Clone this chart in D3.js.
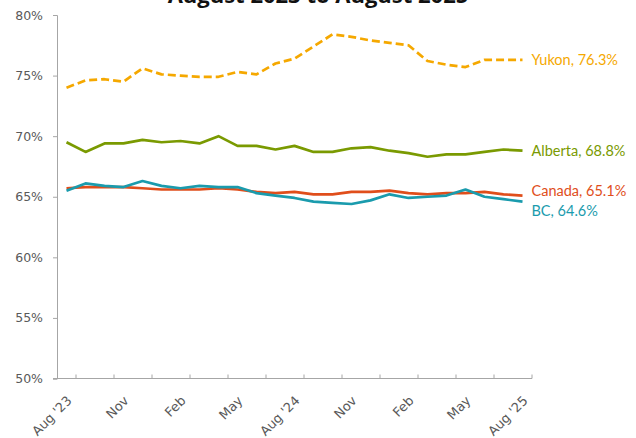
<!DOCTYPE html>
<html>
<head>
<meta charset="utf-8">
<script src="https://cdn.jsdelivr.net/npm/d3@7"></script>
<style>
  body { margin: 0; background: #fff; }
  svg { display: block; }
</style>
</head>
<body>
<div id="chart"></div>
<script>
// monthly participation rates, Aug 2023 - Aug 2025
const months = ["Aug '23","Sep","Oct","Nov","Dec","Jan","Feb","Mar","Apr","May","Jun","Jul",
  "Aug '24","Sep","Oct","Nov","Dec","Jan","Feb","Mar","Apr","May","Jun","Jul","Aug '25"];
const tickLabels = ["Aug '23","Nov","Feb","May","Aug '24","Nov","Feb","May","Aug '25"];
const yTicks = [50, 55, 60, 65, 70, 75, 80];

const yukon   = [74.0, 74.6, 74.7, 74.5, 75.6, 75.1, 75.0, 74.9, 74.9, 75.3, 75.1, 76.0,
                 76.4, 77.4, 78.4, 78.2, 77.9, 77.7, 77.5, 76.2, 75.9, 75.7, 76.3, 76.3, 76.3];
const alberta = [69.5, 68.7, 69.4, 69.4, 69.7, 69.5, 69.6, 69.4, 70.0, 69.2, 69.2, 68.9,
                 69.2, 68.7, 68.7, 69.0, 69.1, 68.8, 68.6, 68.3, 68.5, 68.5, 68.7, 68.9, 68.8];
const canada  = [65.7, 65.8, 65.8, 65.8, 65.7, 65.6, 65.6, 65.6, 65.7, 65.6, 65.4, 65.3,
                 65.4, 65.2, 65.2, 65.4, 65.4, 65.5, 65.3, 65.2, 65.3, 65.3, 65.4, 65.2, 65.1];
const bc      = [65.5, 66.1, 65.9, 65.8, 66.3, 65.9, 65.7, 65.9, 65.8, 65.8, 65.3, 65.1,
                 64.9, 64.6, 64.5, 64.4, 64.7, 65.2, 64.9, 65.0, 65.1, 65.6, 65.0, 64.8, 64.6];

const series = [
  {name: "Yukon",   values: yukon,   color: "#F5A800", dash: "8,4", labelY: 60},
  {name: "Alberta", values: alberta, color: "#7A9A01", dash: null,  labelY: 151},
  {name: "Canada",  values: canada,  color: "#E04E1B", dash: null,  labelY: 191},
  {name: "BC",      values: bc,      color: "#1A9BAD", dash: null,  labelY: 211}
];

const width = 636, height = 438;
const margin = {top: 15, left: 57};
const plotW = 475, plotH = 363.5;

const svg = d3.select("#chart").append("svg")
    .attr("width", width)
    .attr("height", height);

const x = d3.scaleBand()
    .domain(d3.range(months.length))
    .range([margin.left, margin.left + plotW]);

const y = d3.scaleLinear()
    .domain([50, 80])
    .range([margin.top + plotH, margin.top]);

// title (cut off at the top, as in the source)
svg.append("text")
    .attr("x", 318)
    .attr("y", 3)
    .attr("text-anchor", "middle")
    .style("font-family", "'Open Sans', sans-serif")
    .style("font-weight", "bold")
    .style("font-size", "22px")
    .style("fill", "#111")
    .text("August 2023 to August 2025");

// y axis
const yAxis = svg.append("g")
    .attr("transform", `translate(${margin.left},0)`)
    .call(d3.axisLeft(y).tickValues(yTicks).tickSize(4).tickPadding(10)
      .tickFormat(d => d + "%"));
yAxis.select(".domain").attr("stroke", "#A6A6A6");
yAxis.selectAll(".tick line").attr("stroke", "#A6A6A6");
yAxis.selectAll("text")
    .style("font-family", "'DejaVu Sans', sans-serif")
    .style("font-size", "12.5px")
    .style("fill", "#595959");

// x axis: ticks every second band boundary
const xg = svg.append("g")
    .attr("transform", `translate(0,${y(50)})`);
xg.append("line")
    .attr("x1", margin.left - 4)
    .attr("x2", margin.left + plotW)
    .attr("stroke", "#A6A6A6");
const boundaries = d3.range(1, months.length + 1, 2);
xg.selectAll(".xtick")
    .data(boundaries)
    .join("line")
      .attr("class", "xtick")
      .attr("x1", d => margin.left + d * x.step())
      .attr("x2", d => margin.left + d * x.step())
      .attr("y1", 0)
      .attr("y2", -4)
      .attr("stroke", "#A6A6A6");

const labelIdx = d3.range(0, months.length, 3);
xg.selectAll(".xlabel")
    .data(labelIdx)
    .join("text")
      .attr("class", "xlabel")
      .attr("transform", d => `translate(${x(d) + x.bandwidth() / 2 + 6},${23}) rotate(-45)`)
      .attr("text-anchor", "end")
      .style("font-family", "'DejaVu Sans', sans-serif")
      .style("font-size", "13px")
      .style("fill", "#595959")
      .text((d, i) => tickLabels[i]);

// lines
const line = d3.line()
    .x((d, i) => x(i) + x.bandwidth() / 2)
    .y(d => y(d));

svg.selectAll(".series")
    .data(series)
    .join("path")
      .attr("class", "series")
      .attr("d", d => line(d.values))
      .attr("fill", "none")
      .attr("stroke", d => d.color)
      .attr("stroke-width", 2.7)
      .attr("stroke-dasharray", d => d.dash)
      .attr("stroke-linejoin", "round");

// end labels
svg.selectAll(".endlabel")
    .data(series)
    .join("text")
      .attr("class", "endlabel")
      .attr("x", margin.left + plotW - 0.5)
      .attr("y", d => d.labelY)
      .attr("dy", "0.35em")
      .style("font-family", "Lato, sans-serif")
      .style("font-size", "14.5px")
      .style("fill", d => d.color)
      .text(d => `${d.name}, ${d.values[d.values.length - 1].toFixed(1)}%`);
</script>
</body>
</html>
